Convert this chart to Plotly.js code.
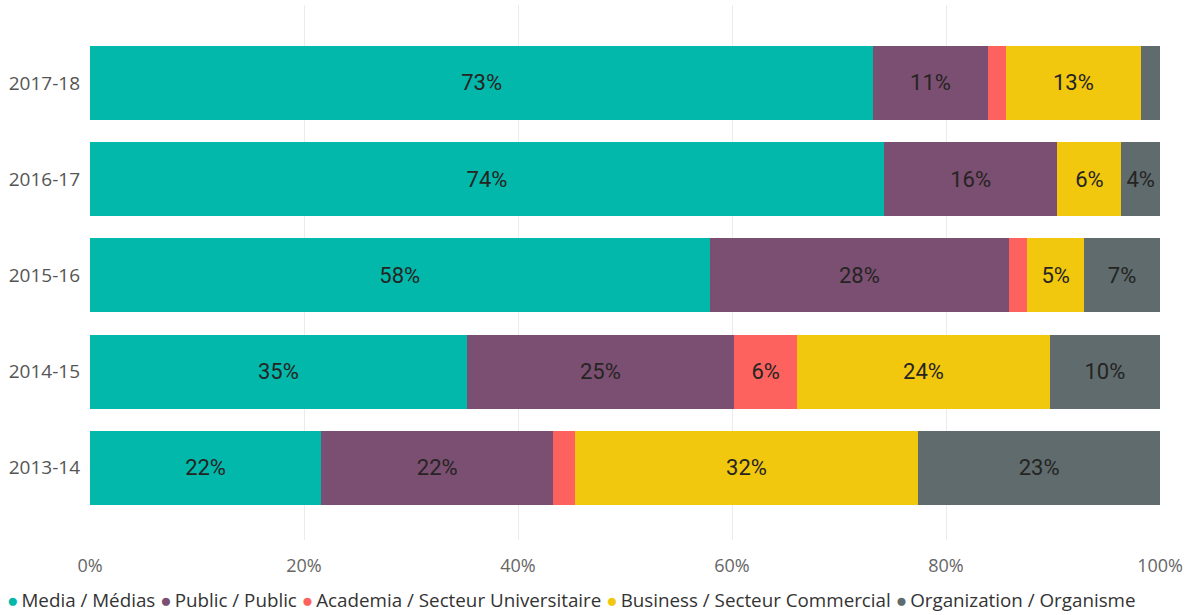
<!DOCTYPE html>
<html>
<head>
<meta charset="utf-8">
<script src="https://cdn.plot.ly/plotly-3.0.1.min.js"></script>
<style>html,body{margin:0;padding:0;background:#fff;}#chart{width:1193px;height:615px;}</style>
</head>
<body>
<div id="chart"></div>
<script>
const years = ["2013-14", "2014-15", "2015-16", "2016-17", "2017-18"];
const seriesNames = ["Media / Médias", "Public / Public", "Academia / Secteur Universitaire", "Business / Secteur Commercial", "Organization / Organisme"];
const media = [21.6, 35.2, 57.9, 74.2, 73.2];
const publicS = [21.7, 25.0, 28.0, 16.2, 10.7];
const academia = [2.0, 5.9, 1.7, 0.0, 1.7];
const business = [32.1, 23.6, 5.3, 6.0, 12.6];
const organization = [22.6, 10.3, 7.1, 3.6, 1.8];
const colors = ["#01B8AA", "#7B4F71", "#FD625E", "#F2C80F", "#5F6B6D"];
const xTicks = [0, 20, 40, 60, 80, 100];

const allSeries = [media, publicS, academia, business, organization];
const traces = [];
allSeries.forEach((vals, i) => {
  traces.push({
    type: "bar",
    orientation: "h",
    name: seriesNames[i],
    y: years,
    x: vals,
    marker: {color: colors[i], line: {width: 0}},
    text: vals.map(v => v >= 3 ? Math.round(v) + "%" : ""),
    textposition: "inside",
    insidetextanchor: "middle",
    textangle: 0,
    constraintext: "none",
    textfont: {family: "Roboto, 'DejaVu Sans', sans-serif", size: 22, color: "#252423"},
    hoverinfo: "skip",
    showlegend: false
  });
});

// legend row built as text (tight spacing like the original)
const legendText = seriesNames.map((n, i) =>
  "<span style='color:" + colors[i] + "'>●</span>\u2009" + n
).join(" ");

const layout = {
  width: 1193,
  height: 615,
  margin: {l: 90, r: 33, t: 5, b: 75},
  paper_bgcolor: "#fff",
  plot_bgcolor: "#fff",
  barmode: "stack",
  bargap: 0.23,
  font: {family: "'Open Sans', 'Noto Sans', sans-serif", color: "#555"},
  xaxis: {
    range: [0, 100],
    tickvals: xTicks,
    ticktext: xTicks.map(v => v + "%"),
    showgrid: true,
    gridcolor: "#ebebeb",
    gridwidth: 1,
    zeroline: false,
    showline: false,
    ticks: "",
    ticklabelstandoff: 13,
    tickfont: {size: 18, color: "#666"},
    fixedrange: true
  },
  yaxis: {
    type: "category",
    categoryorder: "array",
    categoryarray: years,
    range: [-0.75, 4.81],
    showgrid: false,
    zeroline: false,
    showline: false,
    ticks: "",
    ticklabelstandoff: 9,
    tickfont: {size: 19, color: "#555"},
    fixedrange: true
  },
  annotations: [{
    xref: "paper", yref: "paper",
    x: -0.079, y: -0.112,
    xanchor: "left", yanchor: "middle",
    showarrow: false,
    align: "left",
    text: legendText,
    font: {size: 18.8, color: "#333", family: "'Open Sans', 'Noto Sans', sans-serif"}
  }],
  showlegend: false
};

Plotly.newPlot("chart", traces, layout, {displayModeBar: false, staticPlot: true});
</script>
</body>
</html>
